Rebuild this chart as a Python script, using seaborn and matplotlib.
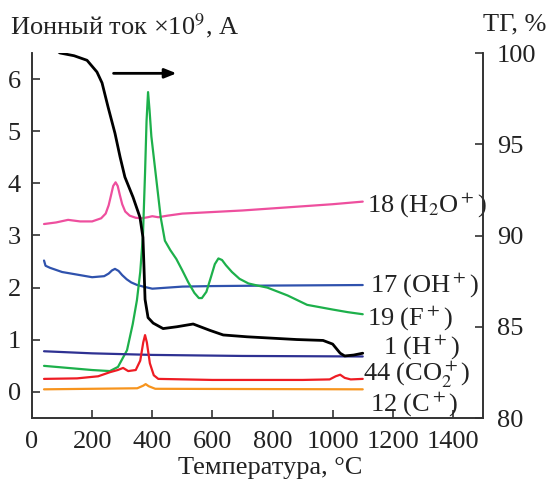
import numpy as np
import pandas as pd
import matplotlib
matplotlib.use("Agg")
import matplotlib.pyplot as plt
import seaborn as sns

# ---- data ----
# 18 (H2O+)
t_h2o = [40, 80, 120, 160, 200, 230, 245, 255, 262, 270, 278, 285, 292, 300, 310, 325, 345,
         365, 385, 400, 420, 450, 500, 600, 700, 800, 900, 1000, 1100]
i_h2o = [3.22, 3.25, 3.3, 3.27, 3.27, 3.33, 3.42, 3.58, 3.75, 3.95, 4.02, 3.95, 3.78, 3.6,
         3.46, 3.38, 3.34, 3.33, 3.35, 3.37, 3.35, 3.38, 3.42, 3.45, 3.48, 3.52, 3.56, 3.6, 3.65]

# 17 (OH+)
t_oh = [40, 45, 60, 100, 150, 200, 240, 255, 266, 276, 288, 300, 315, 330, 350, 370, 400, 450,
        500, 600, 800, 1100]
i_oh = [2.52, 2.42, 2.38, 2.3, 2.25, 2.2, 2.22, 2.27, 2.33, 2.36, 2.32, 2.24, 2.16, 2.1, 2.05,
        2.02, 1.98, 2.0, 2.02, 2.03, 2.04, 2.05]

# 19 (F+)
t_f = [40, 100, 200, 259, 286, 316, 335, 349, 360, 369, 376, 381, 386, 391, 397, 405, 415, 428,
       442, 460, 480, 500, 520, 540, 555, 565, 580, 595, 608, 620, 632, 645, 665, 690, 720, 750,
       783, 850, 915, 1000, 1050, 1100]
i_f = [0.5, 0.47, 0.42, 0.4, 0.48, 0.8, 1.3, 1.76, 2.3, 3.0, 4.2, 5.2, 5.75, 5.4, 4.9, 4.5, 4.0,
       3.35, 2.9, 2.72, 2.55, 2.33, 2.1, 1.9, 1.8, 1.8, 1.92, 2.2, 2.45, 2.56, 2.53, 2.43, 2.3,
       2.17, 2.08, 2.04, 2.0, 1.85, 1.67, 1.58, 1.53, 1.49]

# 1 (H+)
t_h = [40, 200, 400, 700, 1100]
i_h = [0.78, 0.74, 0.71, 0.69, 0.68]

# 44 (CO2+)
t_co2 = [40, 150, 220, 260, 285, 303, 320, 345, 360, 370, 376, 382, 392, 405, 420, 600, 900,
         990, 1010, 1025, 1040, 1060, 1100]
i_co2 = [0.25, 0.26, 0.3, 0.38, 0.42, 0.46, 0.4, 0.42, 0.6, 0.95, 1.09, 0.95, 0.55, 0.32, 0.25,
         0.23, 0.23, 0.24, 0.3, 0.33, 0.27, 0.24, 0.25]

# 12 (C+)
t_c = [40, 350, 370, 378, 388, 410, 1100]
i_c = [0.05, 0.07, 0.12, 0.15, 0.11, 0.06, 0.05]

# TG, %
t_tg = [70, 93, 140, 183, 216, 233, 253, 276, 293, 309, 336, 359, 369, 372, 376, 386, 403, 436,
        482, 536, 592, 636, 715, 880, 968, 1000, 1025, 1040, 1070, 1100]
tg = [100.3, 100.0, 99.85, 99.6, 98.96, 98.36, 97.04, 95.6, 94.3, 93.2, 92.1, 91.0, 89.9, 88.5,
      86.5, 85.5, 85.2, 84.9, 85.0, 85.15, 84.8, 84.55, 84.45, 84.3, 84.25, 84.05, 83.55, 83.4,
      83.45, 83.55]

series = [
    (t_h2o, i_h2o, "#ee4f9e", "18 (H$_2$O$^+$)", 1114, 3.45),
    (t_oh, i_oh, "#2f52ad", "17 (OH$^+$)", 1124, 1.92),
    (t_f, i_f, "#1db04b", "19 (F$^+$)", 1114, 1.30),
    (t_h, i_h, "#2e3192", "1 (H$^+$)", 1167, 0.74),
    (t_co2, i_co2, "#ee1c24", "44 (CO$_2^+$)", 1100, 0.21),
    (t_c, i_c, "#f7941d", "12 (C$^+$)", 1124, -0.36),
]

# ---- plot ----
sns.set_style("ticks")
plt.rcParams['font.family'] = ['Liberation Serif', 'DejaVu Serif']
plt.rcParams['mathtext.fontset'] = 'stix'
fs = 19

fig = plt.figure(figsize=(5.51, 4.86), dpi=100)
ax = fig.add_axes([32 / 551, 1 - 418 / 486, (483 - 32) / 551, (418 - 53) / 486])
ax2 = ax.twinx()

for t, v, col, lab, lx, ly in series:
    df = pd.DataFrame({"T": t, "I": v})
    sns.lineplot(data=df, x="T", y="I", ax=ax, color=col, lw=1.6, sort=False)
    ax.text(lx, ly, lab, va="baseline", ha="left", fontsize=fs, color="#222222")

df_tg = pd.DataFrame({"T": t_tg, "TG": tg})
sns.lineplot(data=df_tg, x="T", y="TG", ax=ax2, color="black", lw=2.0, sort=False)

# arrow pointing at the right axis
ax.annotate("", xy=(490, 6.11), xytext=(262, 6.11),
            arrowprops=dict(arrowstyle="-|>,head_length=0.7,head_width=0.28", lw=2.0, color="black"))

ax.set_xlim(0, 1500)
ax.set_ylim(-0.5, 6.5)
ax2.set_ylim(80, 100)
ax.set_xticks(range(0, 1401, 200))
ax.set_yticks(range(0, 7))
ax2.set_yticks([80, 85, 90, 95, 100])
ax.set_xlabel("")
ax.set_ylabel("")
ax2.set_ylabel("")

for a in (ax, ax2):
    a.spines["top"].set_visible(False)
    for s in a.spines.values():
        s.set_color("#333333")
        s.set_linewidth(1.2)
ax.tick_params(axis="x", direction="in", length=6, width=1.1, pad=9, colors="#222222", labelsize=fs)
ax.tick_params(axis="y", direction="in", length=6, width=1.1, pad=8, colors="#222222", labelsize=fs)
ax2.tick_params(axis="y", direction="in", length=6, width=1.1, pad=10, colors="#222222", labelsize=fs)

fig.text(10 / 551, 1 - 26 / 486, "Ионный ток ×10$^9$, А", ha="left", va="center",
         fontsize=fs, color="#222222")
fig.text(515 / 551, 1 - 24 / 486, "ТГ, %", ha="center", va="center", fontsize=fs, color="#222222")
fig.text(270 / 551, 1 - 468 / 486, "Температура, °C", ha="center", va="center",
         fontsize=fs, color="#222222")

fig.savefig("out.png", dpi=100)
